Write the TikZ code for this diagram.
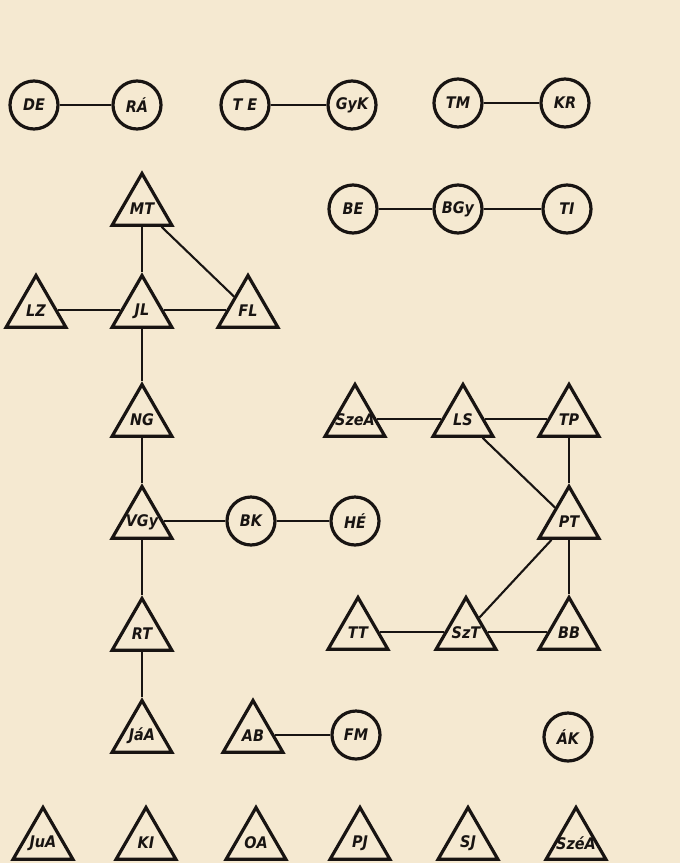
\documentclass[tikz,border=0pt]{standalone}
\usepackage{fontspec}
\newfontfamily\labfont{DejaVu Sans Condensed}
\usetikzlibrary{shapes.geometric}
\definecolor{paper}{RGB}{245,233,209}
\definecolor{ink}{RGB}{24,20,18}
\newcommand\mytri[4]{\node[tri] (#1) at (#2,#3) {}; \node[lab] (#1-t) at (#2,#3+1) {#4};}
\begin{document}
\begin{tikzpicture}[x=1pt,y=-1pt,
  labtext/.style={font=\labfont\bfseries\itshape\fontsize{16}{16}\selectfont, text=ink},
  circ/.style={circle, draw=ink, line width=3.2pt, minimum size=48pt, inner sep=0pt, labtext},
  tri/.style={regular polygon, regular polygon sides=3, draw=ink, line width=3.2pt, line join=miter, minimum size=69pt, inner sep=0pt},
  lab/.style={inner sep=0pt, labtext},
  edge/.style={draw=ink, line width=2.1pt}]
\fill[paper] (0,0) rectangle (680,863);
\useasboundingbox (0,0) rectangle (680,863);
% circles
\node[circ] (DE) at (34,105) {DE};
\node[circ] (RA) at (137,105) {RÁ};
\node[circ] (TE) at (245,105) {T E};
\node[circ] (GyK) at (352,105) {GyK};
\node[circ] (TM) at (458,103) {TM};
\node[circ] (KR) at (565,103) {KR};
\node[circ] (BE) at (353,209) {BE};
\node[circ] (BGy) at (458,209) {BGy};
\node[circ] (TI) at (567,209) {TI};
\node[circ] (BK) at (251,521) {BK};
\node[circ] (HE) at (355,521) {HÉ};
\node[circ] (FM) at (356,735) {FM};
\node[circ] (AK) at (568,737) {ÁK};
% triangles
\mytri{MT}{142}{208}{MT}
\mytri{LZ}{36}{310}{LZ}
\mytri{JL}{142}{310}{JL}
\mytri{FL}{248}{310}{FL}
\mytri{NG}{142}{419}{NG}
\mytri{VGy}{142}{521}{VGy}
\mytri{RT}{142}{633}{RT}
\mytri{JdA}{142}{735}{JáA}
\mytri{AB}{253}{735}{AB}
\mytri{SzeA}{355}{419}{SzeA}
\mytri{LS}{463}{419}{LS}
\mytri{TP}{569}{419}{TP}
\mytri{PT}{569}{521}{PT}
\mytri{TT}{358}{632}{TT}
\mytri{SzT}{466}{632}{SzT}
\mytri{BB}{569}{632}{BB}
\mytri{JuA}{43}{842}{JuA}
\mytri{KI}{146}{842}{KI}
\mytri{OA}{256}{842}{OA}
\mytri{PJ}{360}{842}{PJ}
\mytri{SJ}{468}{842}{SJ}
\mytri{SzeeA}{576}{842}{SzéA}
% connectors
\draw[edge] (DE) -- (RA);
\draw[edge] (TE) -- (GyK);
\draw[edge] (TM) -- (KR);
\draw[edge] (BE) -- (BGy);
\draw[edge] (BGy) -- (TI);
\draw[edge] (MT) -- (JL);
\draw[edge] (MT) -- (FL);
\draw[edge] (LZ) -- (JL);
\draw[edge] (JL) -- (FL);
\draw[edge] (JL) -- (NG);
\draw[edge] (NG) -- (VGy);
\draw[edge] (VGy) -- (BK);
\draw[edge] (BK) -- (HE);
\draw[edge] (VGy) -- (RT);
\draw[edge] (RT) -- (JdA);
\draw[edge] (AB) -- (FM);
\draw[edge] (SzeA) -- (LS);
\draw[edge] (LS) -- (TP);
\draw[edge] (LS) -- (PT);
\draw[edge] (TP) -- (PT);
\draw[edge] (PT) -- (BB);
\draw[edge] (PT) -- (SzT);
\draw[edge] (TT) -- (SzT);
\draw[edge] (SzT) -- (BB);
\end{tikzpicture}
\end{document}
